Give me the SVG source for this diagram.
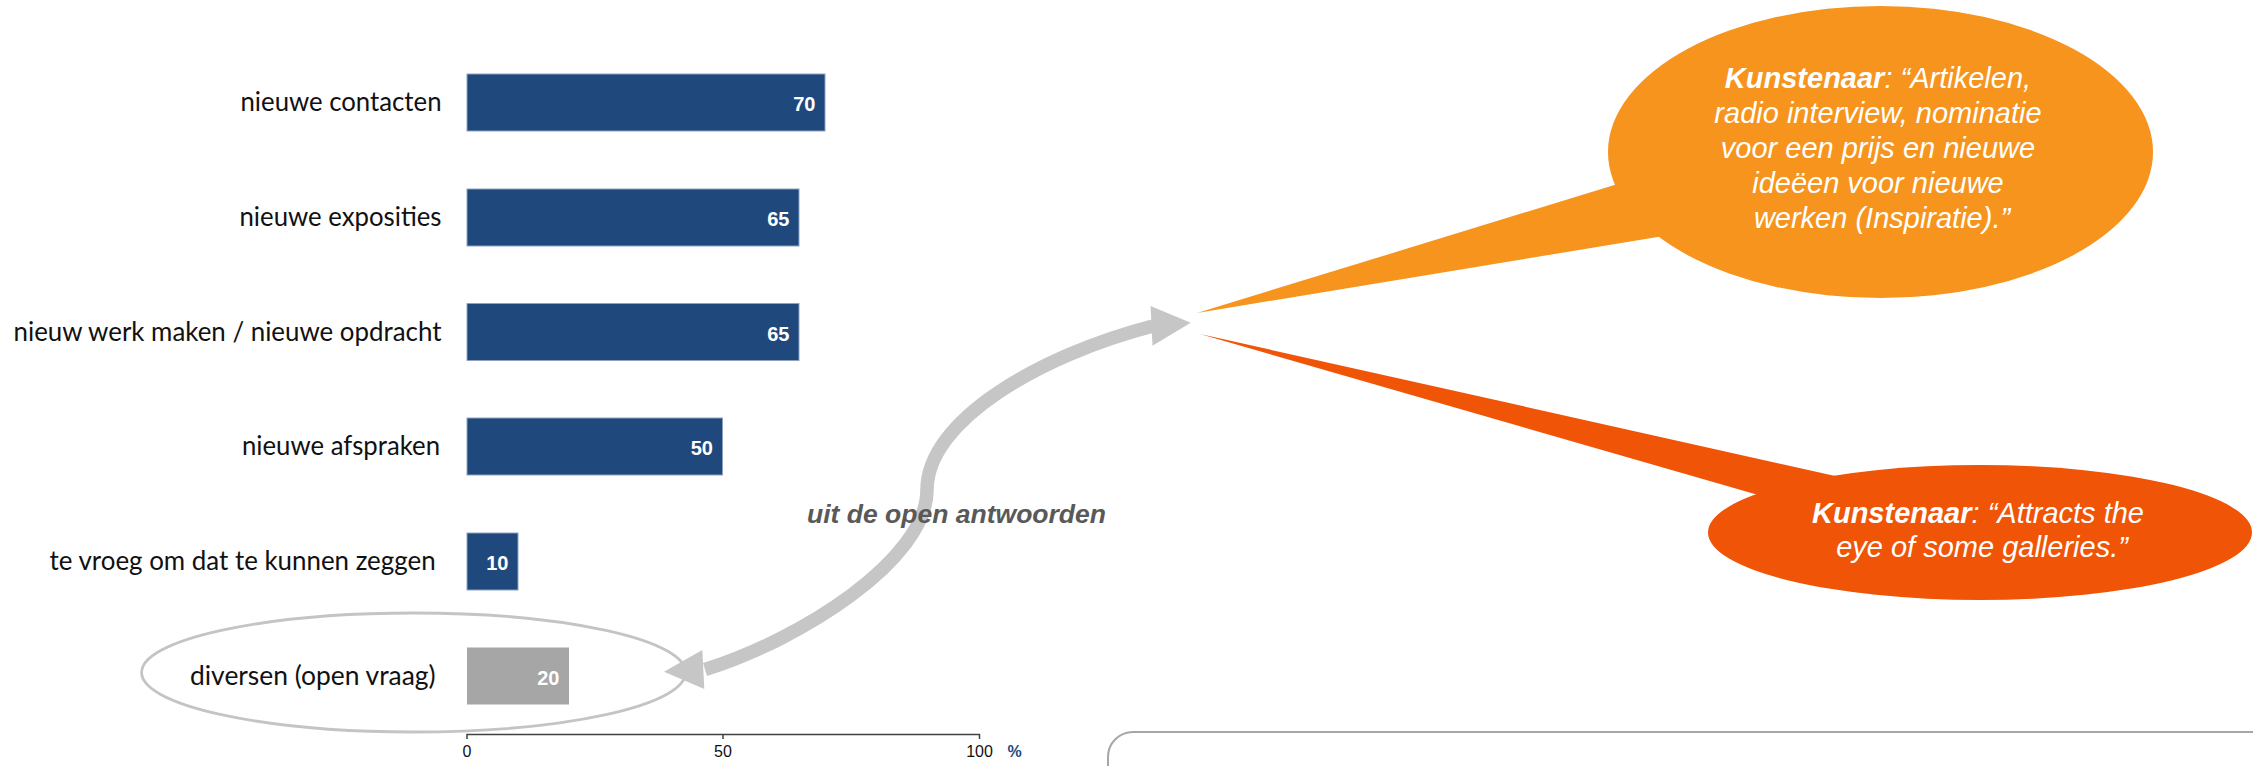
<svg xmlns="http://www.w3.org/2000/svg" width="2253" height="766" viewBox="0 0 2253 766">
<style>
.lbl{font-family:Lato,"Liberation Sans",sans-serif;font-size:26px;fill:#111;text-anchor:end}
.val{font-family:"Liberation Sans",Arial,sans-serif;font-size:20px;font-weight:bold;fill:#fff;text-anchor:end}
.bar{fill:#1F497D;stroke:#8EA2C0;stroke-width:1}
.tick{font-family:"Liberation Sans",Arial,sans-serif;font-size:16px;fill:#111;text-anchor:middle}
.q{font-family:"Liberation Sans",Arial,sans-serif;font-size:29px;font-style:italic;fill:#fff;text-anchor:middle}
.q tspan.b{font-weight:bold}
.arr{fill:#C6C6C6}
</style>
<rect width="2253" height="766" fill="#fff"/>

<g id="chart">
  <g id="bar-contacten">
    <rect class="bar" x="467" y="74" width="358" height="57"/>
    <text class="lbl" x="441.5" y="111" textLength="201" lengthAdjust="spacingAndGlyphs">nieuwe contacten</text>
    <text class="val" x="815.5" y="111">70</text>
  </g>
  <g id="bar-exposities">
    <rect class="bar" x="467" y="189" width="332" height="57"/>
    <text class="lbl" x="441.5" y="226" textLength="202" lengthAdjust="spacingAndGlyphs">nieuwe exposities</text>
    <text class="val" x="789.5" y="226">65</text>
  </g>
  <g id="bar-werk">
    <rect class="bar" x="467" y="303.5" width="332" height="57"/>
    <text class="lbl" x="441.5" y="340.5" textLength="428" lengthAdjust="spacingAndGlyphs">nieuw werk maken / nieuwe opdracht</text>
    <text class="val" x="789.5" y="340.5">65</text>
  </g>
  <g id="bar-afspraken">
    <rect class="bar" x="467" y="418" width="255.5" height="57"/>
    <text class="lbl" x="440" y="455" textLength="198" lengthAdjust="spacingAndGlyphs">nieuwe afspraken</text>
    <text class="val" x="713" y="455">50</text>
  </g>
  <g id="bar-te-vroeg">
    <rect class="bar" x="467" y="533" width="51" height="57"/>
    <text class="lbl" x="435.6" y="570" textLength="386" lengthAdjust="spacingAndGlyphs">te vroeg om dat te kunnen zeggen</text>
    <text class="val" x="508.5" y="570">10</text>
  </g>
  <g id="bar-diversen">
    <rect x="467" y="647.5" width="102" height="57" fill="#A6A6A6"/>
    <text class="lbl" x="435.6" y="684.5" textLength="245.6" lengthAdjust="spacingAndGlyphs">diversen (open vraag)</text>
    <text class="val" x="559.5" y="684.5">20</text>
  </g>
  <g id="axis">
    <path d="M467,739 V734.5 H979.5 V739 M723,734.5 V739" fill="none" stroke="#404040" stroke-width="1.5"/>
    <text class="tick" x="467" y="756.5">0</text>
    <text class="tick" x="723" y="756.5">50</text>
    <text class="tick" x="979.5" y="756.5">100</text>
    <text class="tick" x="1014.5" y="756.5" style="fill:#1F497D;font-weight:bold">%</text>
  </g>
</g>

<g id="highlight-ellipse">
  <ellipse cx="413.6" cy="672.5" rx="272" ry="59.5" fill="none" stroke="#C4C4C4" stroke-width="2.8"/>
</g>

<g id="connectors">
  <path d="M705,669.5 C800,640 927,560 927,490 C927,420 1041,355 1153,326" fill="none" stroke="#C6C6C6" stroke-width="13.5"/>
  <polygon class="arr" points="664,671.7 702.3,650 704.3,689"/>
  <polygon class="arr" points="1190.7,322.7 1150.6,306 1152.5,345.7"/>
</g>

<g id="label-open">
  <text x="807" y="523" textLength="299" lengthAdjust="spacingAndGlyphs" font-family="'Liberation Sans',Arial,sans-serif" font-size="26" font-weight="bold" font-style="italic" fill="#595959">uit de open antwoorden</text>
</g>

<g id="callout-1">
  <polygon points="1197,313 1660,171 1700,230" fill="#F7941D"/>
  <ellipse cx="1880.5" cy="152" rx="272.5" ry="146" fill="#F7941D"/>
  <text class="q">
    <tspan x="1882" y="88"><tspan class="b">Kunstenaar</tspan>: “Artikelen,</tspan>
    <tspan x="1882" y="123">radio interview, nominatie</tspan>
    <tspan x="1882" y="158">voor een prijs en nieuwe</tspan>
    <tspan x="1882" y="193">ideëen voor nieuwe</tspan>
    <tspan x="1882" y="228">werken (Inspiratie).”</tspan>
  </text>
</g>

<g id="callout-2">
  <polygon points="1200,334 1880,486 1800,507" fill="#F05406"/>
  <ellipse cx="1980" cy="532.5" rx="272" ry="67.5" fill="#F05406"/>
  <text class="q">
    <tspan x="1982" y="522.7"><tspan class="b">Kunstenaar</tspan>: “Attracts the</tspan>
    <tspan x="1982" y="557.3">eye of some galleries.”</tspan>
  </text>
</g>

<g id="panel">
  <rect x="1108" y="732" width="1300" height="120" rx="25" ry="25" fill="none" stroke="#A6A6A6" stroke-width="2"/>
</g>
</svg>
